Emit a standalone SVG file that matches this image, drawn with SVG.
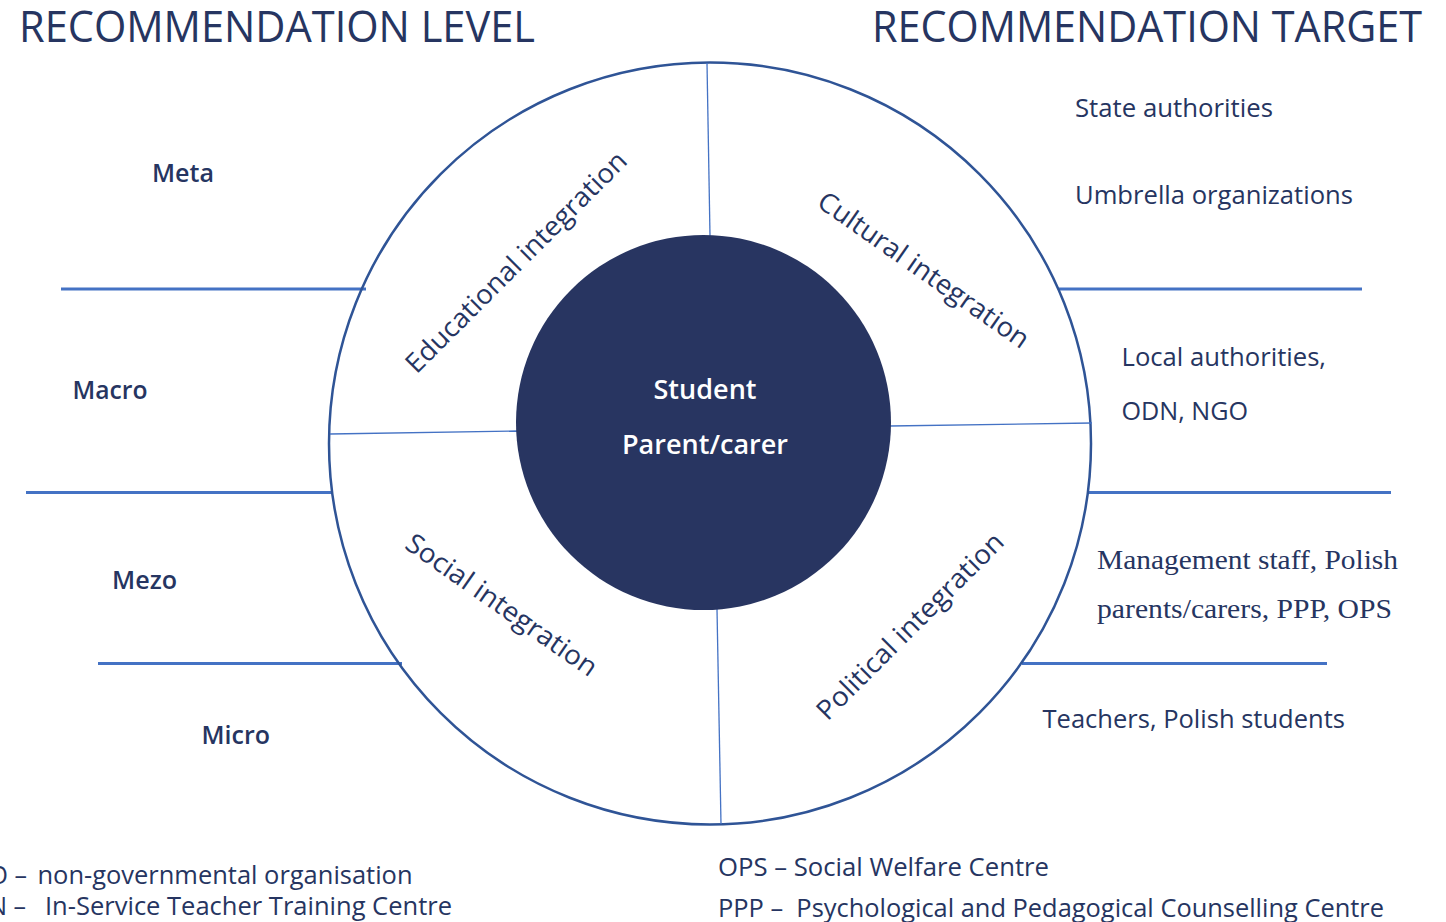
<svg xmlns="http://www.w3.org/2000/svg" width="1446" height="922" viewBox="0 0 1446 922">
<style>
text{font-family:"Open Sans","Noto Sans","Liberation Sans",sans-serif;fill:#263561}
.hdr{font-size:44px}
.lvl{font-size:26px;font-weight:600}
.tgt{font-size:26px}
.ser{font-family:"Liberation Serif","Times New Roman",serif;font-size:27px}
.seg{font-size:27px}
.ctr{font-size:27px;font-weight:600;fill:#ffffff}
.note{font-size:25px}
.band{stroke:#4472C4;stroke-width:3;fill:none}
.div{stroke:#4472C4;stroke-width:1.3;fill:none}
</style>
<rect width="1446" height="922" fill="#ffffff"/>
<g id="headers">
<text class="hdr" x="19" y="42" textLength="516" lengthAdjust="spacingAndGlyphs">RECOMMENDATION LEVEL</text>
<text class="hdr" x="872" y="42" textLength="550" lengthAdjust="spacingAndGlyphs">RECOMMENDATION TARGET</text>
</g>
<g id="bands">
<line class="band" x1="61" y1="289" x2="366" y2="289"/>
<line class="band" x1="1059" y1="289" x2="1362" y2="289"/>
<line class="band" x1="26" y1="492.5" x2="332" y2="492.5"/>
<line class="band" x1="1088" y1="492.5" x2="1391" y2="492.5"/>
<line class="band" x1="98" y1="663.5" x2="402" y2="663.5"/>
<line class="band" x1="1022" y1="663.5" x2="1327" y2="663.5"/>
</g>
<g id="outer-circle">
<circle cx="710" cy="443.5" r="381" fill="none" stroke="#2F5496" stroke-width="2.5"/>
</g>
<g id="connectors">
<line class="div" x1="707" y1="63" x2="710" y2="236"/>
<line class="div" x1="330" y1="434" x2="517" y2="431"/>
<line class="div" x1="890" y1="426" x2="1092" y2="423"/>
<line class="div" x1="717" y1="609" x2="721" y2="824"/>
</g>
<g id="center">
<circle cx="703.5" cy="422.5" r="187.5" fill="#283561"/>
<text class="ctr" x="705" y="399" text-anchor="middle" textLength="103" lengthAdjust="spacingAndGlyphs">Student</text>
<text class="ctr" x="705" y="454" text-anchor="middle" textLength="166" lengthAdjust="spacingAndGlyphs">Parent/carer</text>
</g>
<g id="educational">
<text class="seg" transform="translate(517,263) rotate(-45)" x="0" y="8" text-anchor="middle" textLength="300" lengthAdjust="spacingAndGlyphs">Educational integration</text>
</g>
<g id="cultural">
<text class="seg" transform="translate(923,271) rotate(35)" x="0" y="8" text-anchor="middle" textLength="251" lengthAdjust="spacingAndGlyphs">Cultural integration</text>
</g>
<g id="social">
<text class="seg" transform="translate(501,606) rotate(35)" x="0" y="8" text-anchor="middle" textLength="227" lengthAdjust="spacingAndGlyphs">Social integration</text>
</g>
<g id="political">
<text class="seg" transform="translate(911,627) rotate(-45)" x="0" y="8" text-anchor="middle" textLength="252" lengthAdjust="spacingAndGlyphs">Political integration</text>
</g>
<g id="levels">
<text class="lvl" x="152" y="181.5" textLength="62" lengthAdjust="spacingAndGlyphs">Meta</text>
<text class="lvl" x="72.5" y="398.5" textLength="75" lengthAdjust="spacingAndGlyphs">Macro</text>
<text class="lvl" x="112" y="589" textLength="65" lengthAdjust="spacingAndGlyphs">Mezo</text>
<text class="lvl" x="201.5" y="743.5" textLength="68.5" lengthAdjust="spacingAndGlyphs">Micro</text>
</g>
<g id="targets">
<text class="tgt" x="1075" y="116.5" textLength="198" lengthAdjust="spacingAndGlyphs">State authorities</text>
<text class="tgt" x="1075" y="204" textLength="278" lengthAdjust="spacingAndGlyphs">Umbrella organizations</text>
<text class="tgt" x="1121.5" y="365.5" textLength="204.5" lengthAdjust="spacingAndGlyphs">Local authorities,</text>
<text class="tgt" x="1121.5" y="420" textLength="126.5" lengthAdjust="spacingAndGlyphs">ODN, NGO</text>
<text class="ser" x="1097" y="569" textLength="301" lengthAdjust="spacingAndGlyphs">Management staff, Polish</text>
<text class="ser" x="1097" y="618" textLength="295" lengthAdjust="spacingAndGlyphs">parents/carers, PPP, OPS</text>
<text class="tgt" x="1042.5" y="728" textLength="302.5" lengthAdjust="spacingAndGlyphs">Teachers, Polish students</text>
</g>
<g id="notes">
<text class="note" y="884"><tspan x="27" text-anchor="end">NGO –</tspan><tspan x="37.5" textLength="375" lengthAdjust="spacingAndGlyphs">non-governmental organisation</tspan></text>
<text class="note" y="915"><tspan x="26" text-anchor="end">ODN –</tspan><tspan x="45" textLength="407" lengthAdjust="spacingAndGlyphs">In-Service Teacher Training Centre</tspan></text>
<text class="note" x="718" y="876" textLength="331" lengthAdjust="spacingAndGlyphs">OPS – Social Welfare Centre</text>
<text class="note" x="718" y="917" textLength="666" lengthAdjust="spacingAndGlyphs" xml:space="preserve">PPP –  Psychological and Pedagogical Counselling Centre</text>
</g>
</svg>
